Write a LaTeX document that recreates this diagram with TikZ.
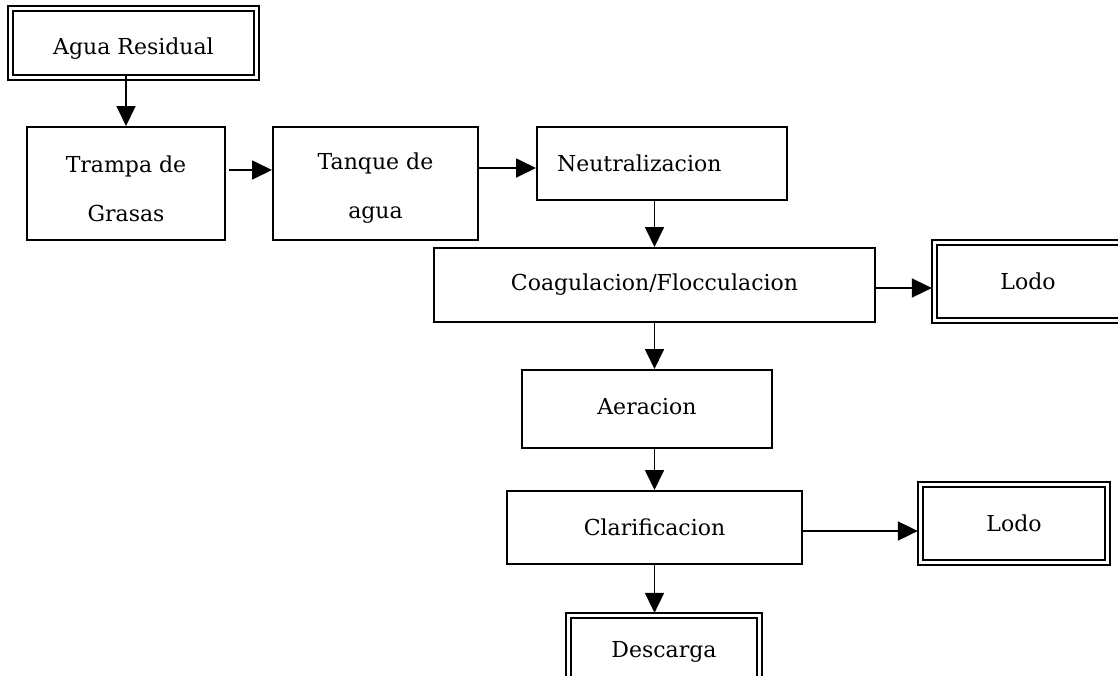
\documentclass[tikz,border=0pt]{standalone}
\usepackage{fontspec}
\setmainfont{DejaVu Serif}
\usetikzlibrary{arrows.meta}
\begin{document}
\begin{tikzpicture}[x=1pt,y=-1pt,
  lbl/.style={font=\fontsize{22}{49}\selectfont, align=center, inner sep=0pt},
  box/.style={lbl, draw, line width=2pt},
  dbox/.style={lbl, draw, line width=2.3pt},
  rim/.style={draw, line width=1.3pt},
  flow/.style={line width=1.8pt, -{Triangle[length=20pt,width=19pt]}}]

\useasboundingbox (0,0) rectangle (1118,675);
\fill[white] (0,0) rectangle (1118,675);

% process steps
\node[dbox, minimum width=241, minimum height=64] (agua) at (133.5,43) {};
\node[lbl] (aguaText) at ([yshift=-6pt]agua.center) {Agua Residual};
\node[box, minimum width=198, minimum height=113] (trampa) at (126,183.5) {};
\node[lbl] (trampaText) at ([yshift=-5.5pt]trampa.center) {Trampa de\\Grasas};
\node[box, minimum width=205, minimum height=113] (tanque) at (375.5,183.5) {};
\node[lbl] (tanqueText) at ([yshift=-4.5pt]tanque.center) {Tanque de\\agua};
\node[box, minimum width=250, minimum height=73, text width=210pt, align=left] (neutra) at (662,163.5) {Neutralizacion};
\node[box, minimum width=441, minimum height=74] (coag) at (654.5,285) {Coagulacion/Flocculacion};
\node[dbox, minimum width=182, minimum height=73] (lodoA) at (1028,281.5) {Lodo};
\node[box, minimum width=250, minimum height=78] (aera) at (647,409) {};
\node[lbl] (aeraText) at ([yshift=2pt]aera.center) {Aeracion};
\node[box, minimum width=295, minimum height=73] (clar) at (654.5,527.5) {Clarificacion};
\node[dbox, minimum width=182, minimum height=73] (lodoB) at (1014,523.5) {Lodo};
\node[dbox, minimum width=186, minimum height=67] (desc) at (664,651.5) {Descarga};

% outer rims of the terminal boxes
\foreach \n in {agua,lodoA,lodoB,desc}
  \draw[rim] ([shift={(-3.9pt,3.9pt)}]\n.north west) rectangle ([shift={(3.9pt,-3.9pt)}]\n.south east);

% flow connectors
\draw[flow] (agua.south -| trampa.north) -- (trampa.north);
\draw[flow] ([xshift=3pt,yshift=13.5pt]trampa.east) -- ([yshift=13.5pt]trampa.east -| tanque.west);
\draw[flow] ([yshift=15.5pt]tanque.east) -- ([yshift=15.5pt]tanque.east -| neutra.west);
\draw[flow] (neutra.south -| coag.north) -- (coag.north);
\draw[flow] ([yshift=-3pt]coag.east) -- ([xshift=-4pt,yshift=-3pt]coag.east -| lodoA.west);
\draw[flow] (coag.south) -- (coag.south |- aera.north);
\draw[flow] (aera.south -| clar.north) -- (clar.north);
\draw[flow] ([yshift=-3.5pt]clar.east) -- ([xshift=-4pt,yshift=-3.5pt]clar.east -| lodoB.west);
\draw[flow] (clar.south) -- ([yshift=4pt]clar.south |- desc.north);
\end{tikzpicture}
\end{document}
